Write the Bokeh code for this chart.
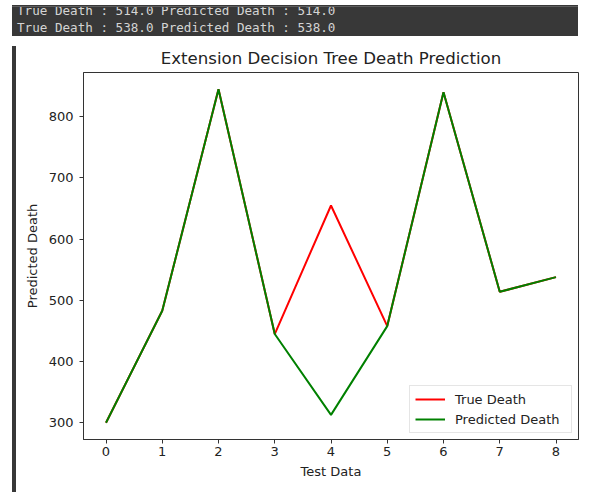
from bokeh.plotting import figure
from bokeh.models import Range1d, FixedTicker, Legend, Div, Spacer
from bokeh.layouts import column, row
from bokeh.embed import file_html
from bokeh.resources import INLINE

# ---- data ----
test_index = [0, 1, 2, 3, 4, 5, 6, 7, 8]
true_death = [300, 483, 845, 445, 655, 458, 840, 514, 538]
predicted_death = [300, 483, 845, 445, 313, 458, 840, 514, 538]
x_ticks = [0, 1, 2, 3, 4, 5, 6, 7, 8]
y_ticks = [300, 400, 500, 600, 700, 800]

FONT = "DejaVu Sans"
TXT = "#222222"

# ---- console output strip ----
line1 = "True Death : %.1f Predicted Death : %.1f" % (true_death[7], predicted_death[7])
line2 = "True Death : %.1f Predicted Death : %.1f" % (true_death[8], predicted_death[8])
html = (
    '<div style="position:relative;width:573px;height:31px;overflow:hidden;">'
    '<div style="position:absolute;left:7px;top:0;width:566px;height:31px;background:#383838;"></div>'
    '<div style="position:absolute;left:7px;top:1px;width:566px;height:1px;background:#5e5e5e;"></div>'
    '<div style="position:absolute;left:7px;top:2px;width:566px;height:29px;overflow:hidden;">'
    '<div style="position:absolute;left:5px;top:-5px;font-family:\'DejaVu Sans Mono\';'
    'font-size:12.6px;line-height:17px;color:#d4d4d4;white-space:pre;">'
    + line1 + "<br>" + line2 +
    '</div></div></div>'
)
top = Div(text=html, width=573, height=31)

# ---- chart ----
p = figure(
    width=562, height=446,
    x_range=Range1d(-0.4, 8.4), y_range=Range1d(272.75, 872.25),
    output_backend="svg", toolbar_location=None,
    min_border_left=62, min_border_right=5, min_border_top=31, min_border_bottom=48,
    title="Extension Decision Tree Death Prediction",
)
p.background_fill_color = "white"
p.border_fill_color = "white"
p.outline_line_color = "#333333"
p.outline_line_width = 1
p.xgrid.visible = False
p.ygrid.visible = False

p.title.text_font = FONT
p.title.text_font_size = "16.6px"
p.title.text_font_style = "normal"
p.title.text_color = TXT
p.title.align = "center"
p.title.standoff = 10

r1 = p.line(test_index, true_death, line_color="#ff0000", line_width=2)
r2 = p.line(test_index, predicted_death, line_color="#008000", line_width=2)

for ax in (p.xaxis[0], p.yaxis[0]):
    ax.axis_line_color = "#333333"
    ax.major_tick_line_color = "#333333"
    ax.major_tick_out = 4
    ax.major_tick_in = 0
    ax.minor_tick_line_color = None
    ax.major_label_text_font = FONT
    ax.major_label_text_font_size = "13px"
    ax.major_label_text_color = TXT
    ax.axis_label_text_font = FONT
    ax.axis_label_text_font_size = "13px"
    ax.axis_label_text_font_style = "normal"
    ax.axis_label_text_color = TXT

p.xaxis[0].ticker = FixedTicker(ticks=x_ticks)
p.yaxis[0].ticker = FixedTicker(ticks=y_ticks)
p.xaxis[0].axis_label = "Test Data"
p.yaxis[0].axis_label = "Predicted Death"
p.xaxis[0].major_label_standoff = 3
p.xaxis[0].axis_label_standoff = 5
p.yaxis[0].major_label_standoff = 6
p.yaxis[0].axis_label_standoff = 6

legend = Legend(items=[("True Death", [r1]), ("Predicted Death", [r2])], location="bottom_right")
legend.margin = 6
legend.padding = 5
legend.spacing = 4
legend.glyph_width = 30
legend.glyph_height = 16
legend.label_height = 16
legend.label_width = 111
legend.label_standoff = 10
legend.label_text_font = FONT
legend.label_text_font_size = "13px"
legend.label_text_color = TXT
legend.border_line_color = "#cccccc"
legend.background_fill_alpha = 0.8
p.add_layout(legend)

bar = Div(text="", width=4, height=446, styles={"background-color": "#383838"})
layout = column(top, row(Spacer(width=7, height=446), bar, p))

open("out.html", "w").write(file_html(layout, INLINE))
